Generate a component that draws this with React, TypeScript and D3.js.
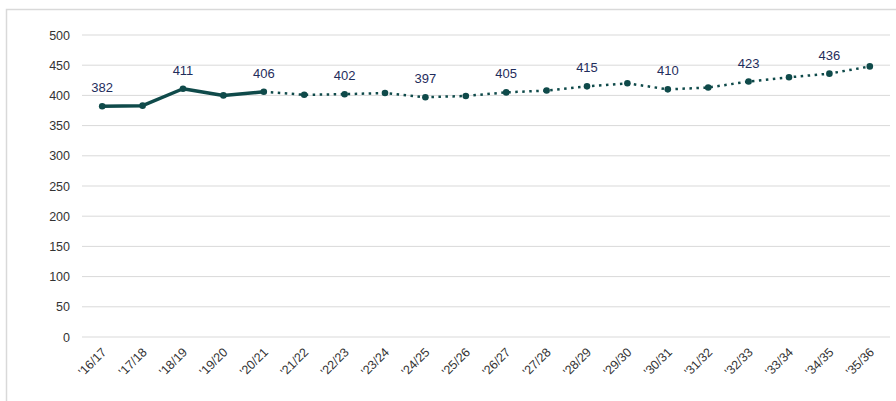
import React from "react";
import * as d3 from "d3";

const categories = ["'16/17","'17/18","'18/19","'19/20","'20/21","'21/22","'22/23","'23/24","'24/25","'25/26","'26/27","'27/28","'28/29","'29/30","'30/31","'31/32","'32/33","'33/34","'34/35","'35/36"];
const values = [382,383,411,400,406,401,402,404,397,399,405,408,415,420,410,413,423,430,436,448];
const actualCount = 5;
const labelIdx = [0,2,4,6,8,10,12,14,16,18];
const yTicks = [0,50,100,150,200,250,300,350,400,450,500];

const W = 896, H = 401;
const LINE = "#0f4a4a";

export default function App() {
  const x = d3.scaleBand<string>().domain(categories).range([82, 890]);
  const y = d3.scaleLinear().domain([0, 500]).range([337, 35]);
  const cx = (i: number) => (x(categories[i]) as number) + x.bandwidth() / 2;
  const pts = values.map((v, i) => [cx(i), y(v)] as [number, number]);
  const gen = d3.line<[number, number]>().x(d => d[0]).y(d => d[1]);
  const solid = gen(pts.slice(0, actualCount)) || "";
  const dotted = gen(pts.slice(actualCount - 1)) || "";
  return (
    <svg width={W} height={H} style={{ position: "absolute", left: 0, top: 0, display: "block" }}
      fontFamily="'Liberation Sans', Arial, sans-serif">
      <rect x={0} y={0} width={W} height={H} fill="#fff" />
      <rect x={6.5} y={9.5} width={W + 10} height={H + 10} fill="none" stroke="#d9d9d9" strokeWidth={1.5} />
      {yTicks.map(t => (
        <g key={t}>
          <line x1={82} x2={890} y1={y(t)} y2={y(t)} stroke="#d9d9d9" strokeWidth={1} />
          <text x={70} y={y(t) + 4.5} textAnchor="end" fontSize={12.5} fill="#333">{t}</text>
        </g>
      ))}
      {categories.map((c, i) => (
        <text key={c} transform={`translate(${cx(i) + 5},${353}) rotate(-45)`} textAnchor="end"
          fontSize={12.5} fill="#333">{c}</text>
      ))}
      <path d={solid} fill="none" stroke={LINE} strokeWidth={3.5} strokeLinejoin="round" />
      <path d={dotted} fill="none" stroke={LINE} strokeWidth={2.5} strokeDasharray="2.5 4.5" />
      {pts.map((p, i) => (
        <circle key={i} cx={p[0]} cy={p[1]} r={3.3} fill={LINE} />
      ))}
      {labelIdx.map(i => (
        <text key={i} x={cx(i)} y={y(values[i]) - 14} textAnchor="middle" fontSize={13} fill="#1f2d5c">{values[i]}</text>
      ))}
    </svg>
  );
}
